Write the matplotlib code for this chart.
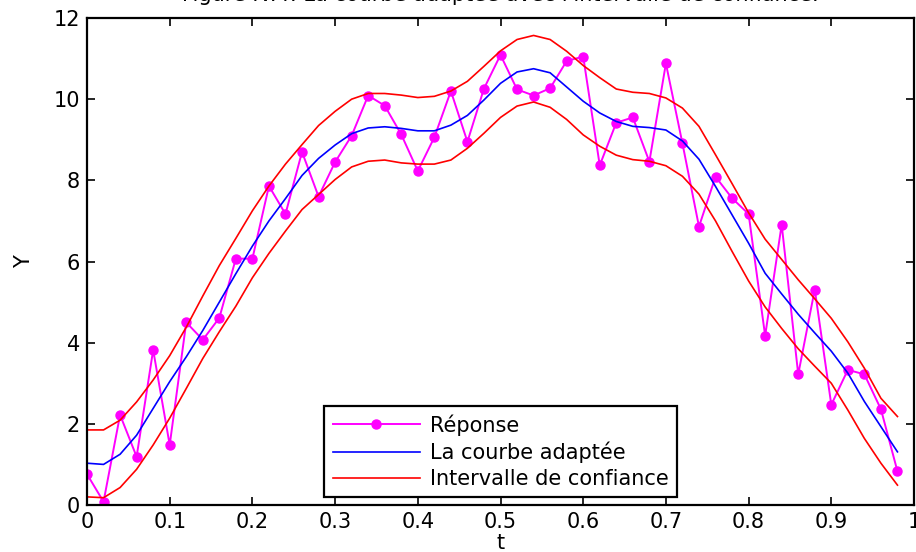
import numpy as np
import matplotlib
matplotlib.use("Agg")
from matplotlib import pyplot as plt

# temps t = 0 : 0.02 : 0.98
t = np.arange(50) * 0.02

reponse = [0.76, 0.08, 2.22, 1.19, 3.82, 1.48, 4.50, 4.07, 4.61, 6.07,
           6.07, 7.86, 7.17, 8.70, 7.60, 8.45, 9.10, 10.09, 9.84, 9.13,
           8.23, 9.06, 10.20, 8.95, 10.26, 11.09, 10.24, 10.09, 10.27, 10.94,
           11.05, 8.37, 9.42, 9.55, 8.46, 10.88, 8.91, 6.86, 8.09, 7.56,
           7.17, 4.17, 6.91, 3.22, 5.31, 2.47, 3.33, 3.22, 2.36, 0.83]

courbe = [1.03, 1.00, 1.25, 1.72, 2.38, 3.04, 3.65, 4.30, 5.00, 5.70,
          6.38, 7.00, 7.55, 8.12, 8.54, 8.87, 9.15, 9.29, 9.32, 9.28,
          9.22, 9.22, 9.36, 9.60, 9.98, 10.39, 10.67, 10.75, 10.65, 10.30,
          9.95, 9.66, 9.45, 9.33, 9.30, 9.24, 8.97, 8.52, 7.85, 7.15,
          6.45, 5.71, 5.20, 4.70, 4.24, 3.79, 3.25, 2.55, 1.93, 1.31]

borne_sup = [1.85, 1.85, 2.09, 2.54, 3.08, 3.68, 4.38, 5.15, 5.90, 6.57,
             7.25, 7.86, 8.40, 8.88, 9.35, 9.70, 10.00, 10.14, 10.14, 10.10,
             10.04, 10.07, 10.20, 10.44, 10.81, 11.19, 11.47, 11.57, 11.47, 11.18,
             10.83, 10.53, 10.25, 10.17, 10.14, 10.03, 9.78, 9.33, 8.63, 7.92,
             7.20, 6.55, 6.05, 5.55, 5.08, 4.60, 4.02, 3.37, 2.63, 2.18]

borne_inf = [0.20, 0.18, 0.43, 0.88, 1.48, 2.14, 2.87, 3.61, 4.27, 4.90,
             5.60, 6.20, 6.75, 7.28, 7.65, 8.02, 8.33, 8.47, 8.50, 8.43,
             8.40, 8.40, 8.50, 8.79, 9.16, 9.55, 9.83, 9.93, 9.80, 9.50,
             9.12, 8.84, 8.62, 8.51, 8.47, 8.36, 8.10, 7.66, 7.00, 6.25,
             5.52, 4.88, 4.35, 3.85, 3.42, 3.00, 2.34, 1.64, 1.03, 0.49]

plt.rcParams['font.family'] = ['DejaVu Sans']

fig = plt.figure(figsize=(9.16, 5.52), dpi=100)
ax = fig.add_axes([87/916, 47/552, 827/916, 487/552])

ax.plot(t, reponse, color='#ff00ff', lw=1.4, marker='o', markersize=6.5,
        label='Réponse')
ax.plot(t, courbe, color='#0000ff', lw=1.2, label='La courbe adaptée')
ax.plot(t, borne_sup, color='#ff0000', lw=1.2, label='Intervalle de confiance')
ax.plot(t, borne_inf, color='#ff0000', lw=1.2)

ax.set_xlim(0, 1)
ax.set_ylim(0, 12)
ax.set_xticks(np.arange(0, 1.01, 0.1))
ax.set_xticklabels(['0', '0.1', '0.2', '0.3', '0.4', '0.5', '0.6', '0.7', '0.8', '0.9', '1'])
ax.set_yticks(range(0, 13, 2))
ax.tick_params(direction='in', length=6, width=1.2, top=True, right=True,
               labelsize=15, pad=5)
for s in ax.spines.values():
    s.set_linewidth(1.6)

ax.set_xlabel('t', fontsize=15, labelpad=1)
ax.set_ylabel('Y', fontsize=15, labelpad=14)
ax.set_title("Figure IV.4: La courbe adaptée avec l'intervalle de confiance.",
             fontsize=15, pad=12)

leg = ax.legend(loc='lower center', bbox_to_anchor=(0.5, 0.016), fontsize=15,
                handlelength=4.2, fancybox=False, framealpha=1,
                edgecolor='black', borderpad=0.4, labelspacing=0.28,
                handletextpad=0.45, borderaxespad=0)
leg.get_frame().set_linewidth(1.6)

fig.savefig('out.png', dpi=100)
